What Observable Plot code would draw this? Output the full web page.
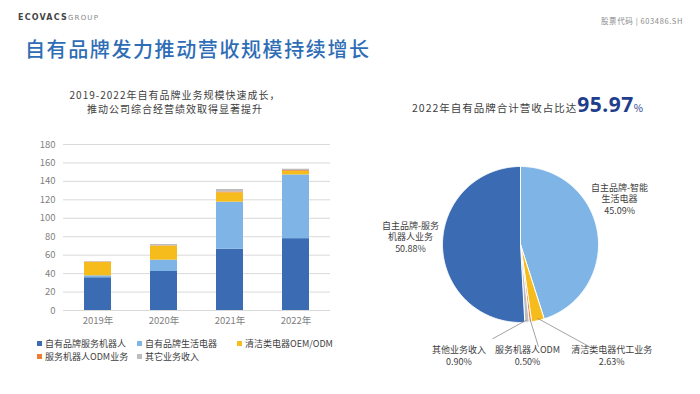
<!DOCTYPE html>
<html><head><meta charset="utf-8">
<script src="https://cdn.jsdelivr.net/npm/d3@7"></script>
<script src="https://cdn.jsdelivr.net/npm/@observablehq/plot@0.6"></script>
<style>
body{margin:0;width:700px;height:394px;position:relative;background:#fff;font-family:"Noto Sans CJK SC","Noto Sans",sans-serif;overflow:hidden}
.abs{position:absolute;white-space:nowrap}
.lg{position:absolute;font-size:9px;color:#404040;line-height:13px;height:13px;white-space:nowrap}
.lg i{display:inline-block;width:5px;height:5px;margin-right:3px;vertical-align:1px}
</style></head><body>
<div class="abs" style="left:18px;top:13px;font-size:8px;letter-spacing:1.2px;color:#555;font-family:'DejaVu Sans',sans-serif"><b style="color:#444">ECOVACS</b><span style="color:#888;font-size:7px">GROUP</span></div>
<div class="abs" style="left:601px;top:15px;font-size:7.5px;color:#8a8a8a;letter-spacing:0.6px">股票代码 | 603486.SH</div>
<div class="abs" style="left:25px;top:34px;font-size:20px;letter-spacing:1.6px;color:#2e6db6;font-weight:500">自有品牌发力推动营收规模持续增长</div>
<div class="abs" style="left:0;width:350px;top:88px;text-align:center;font-size:10px;letter-spacing:1px;color:#404040;line-height:14px">2019-2022年自有品牌业务规模快速成长，<br>推动公司综合经营绩效取得显著提升</div>
<div class="abs" style="left:412px;top:90px;font-size:10.5px;letter-spacing:1px;color:#404040">2022年自有品牌合计营收占比达<span style="font-size:21px;font-weight:700;color:#1f3e8c;letter-spacing:0.5px;font-family:'Noto Sans',sans-serif">95.97</span><span style="font-size:10px;color:#1f3e8c">%</span></div>
<div id="bars" class="abs" style="left:0;top:130px"></div>
<div id="legend"></div>
<div id="pie" class="abs" style="left:370px;top:130px"></div>
<script>
// ---- bar chart data (亿元) ----
const years = ["2019年", "2020年", "2021年", "2022年"];
const seriesNames = ["自有品牌服务机器人", "自有品牌生活电器", "清洁类电器OEM/ODM", "服务机器人ODM业务", "其它业务收入"];
const robotBrand = [35.5, 42.3, 66.5, 77.9];
const lifeBrand = [2.1, 12.3, 51.0, 69.1];
const cleanOEM = [14.4, 15.2, 10.1, 4.0];
const robotODM = [0.4, 0.3, 0.9, 0.8];
const otherIncome = [0.6, 1.5, 2.7, 1.4];
const yTicks = [0, 20, 40, 60, 80, 100, 120, 140, 160, 180];

// ---- pie data (2022, %) clockwise from 12 o'clock ----
const pieNames = ["自主品牌-智能\n生活电器", "清洁类电器代工业务", "服务机器人ODM", "其他业务收入", "自主品牌-服务\n机器人业务"];
const pieValues = [45.09, 2.63, 0.50, 0.90, 50.88];

// styles / layout
const colors = ["#3a6bb3", "#7eb5e6", "#f6bc1c", "#ee7d31", "#bdbdbd"];
const pieColors = ["#7eb5e6", "#f6bc1c", "#ee7d31", "#bdbdbd", "#3a6bb3"];
const pieLabelLayout = [
  {x: 1.27, y: 0.59, leader: null},
  {x: 1.17, y: -1.42, leader: [0.90, -1.32]},
  {x: 0.09, y: -1.42, leader: [0.23, -1.31]},
  {x: -0.79, y: -1.42, leader: [-0.36, -1.21]},
  {x: -1.41, y: 0.10, leader: null}
];

const seriesArrays = [robotBrand, lifeBrand, cleanOEM, robotODM, otherIncome];
const barData = [];
seriesNames.forEach((s, i) => years.forEach((y, j) => barData.push({year: y, series: s, value: seriesArrays[i][j]})));

const bars = Plot.plot({
  width: 350, height: 200, marginTop: 14, marginBottom: 20, marginLeft: 63, marginRight: 20,
  style: {fontFamily: "'Noto Sans CJK SC', sans-serif", fontSize: "9.5px", color: "#7f7f7f", background: "transparent"},
  x: {domain: years, range: [63, 330], paddingInner: 0.59, paddingOuter: 0.31, label: null},
  y: {domain: [0, 180], range: [180, 14], ticks: yTicks, label: null},
  color: {domain: seriesNames, range: colors},
  marks: [
    Plot.gridY(yTicks, {stroke: "#d9d9d9", strokeOpacity: 1}),
    Plot.barY(barData, {x: "year", y: "value", fill: "series", order: seriesNames}),
    Plot.axisY(yTicks, {tickSize: 0, tickPadding: 8, fill: "#7f7f7f", tickFormat: d => d}),
    Plot.axisX({tickSize: 0, tickPadding: 7, fill: "#7f7f7f"})
  ]
});
document.getElementById("bars").append(bars);

// legend
const legendPos = [[37, 337], [137, 337], [237, 337], [37, 350], [137, 350]];
const lg = document.getElementById("legend");
seriesNames.forEach((s, i) => {
  const d = document.createElement("div");
  d.className = "lg";
  d.style.left = legendPos[i][0] + "px";
  d.style.top = legendPos[i][1] + "px";
  d.innerHTML = `<i style="background:${colors[i]}"></i>${s}`;
  lg.append(d);
});

// pie geometry from data
const total = d3.sum(pieValues);
let acc = 0;
const slicePts = [];
const leaders = [];
const labels = [];
pieValues.forEach((v, i) => {
  const a0 = acc / total * 2 * Math.PI;
  acc += v;
  const a1 = acc / total * 2 * Math.PI;
  slicePts.push({x: 0, y: 0, k: i});
  const n = Math.max(2, Math.ceil((a1 - a0) / 0.01));
  for (let t = 0; t <= n; t++) {
    const a = a0 + (a1 - a0) * t / n;
    slicePts.push({x: Math.sin(a), y: Math.cos(a), k: i});
  }
  slicePts.push({x: 0, y: 0, k: i});
  const am = (a0 + a1) / 2;
  const L = pieLabelLayout[i];
  if (L.leader) leaders.push({x1: Math.sin(am) * 0.97, y1: Math.cos(am) * 0.97, x2: L.leader[0], y2: L.leader[1]});
  labels.push({x: L.x, y: L.y, text: pieNames[i] + "\n" + v.toFixed(2) + "%"});
});

const pie = Plot.plot({
  width: 330, height: 264,
  style: {fontFamily: "'Noto Sans CJK SC', sans-serif", background: "transparent"},
  x: {domain: [-1, 1], range: [72, 228], axis: null},
  y: {domain: [-1, 1], range: [192, 36], axis: null},
  marks: [
    Plot.line(slicePts, {x: "x", y: "y", z: "k", fill: d => pieColors[d.k], stroke: "#fff", strokeWidth: 1, curve: "linear"}),
    Plot.link(leaders, {x1: "x1", y1: "y1", x2: "x2", y2: "y2", stroke: "#8c8c8c", strokeWidth: 0.8}),
    Plot.text(labels, {x: "x", y: "y", text: "text", fill: "#404040", fontSize: 9, lineHeight: 1.3})
  ]
});
document.getElementById("pie").append(pie);
</script>
</body></html>
